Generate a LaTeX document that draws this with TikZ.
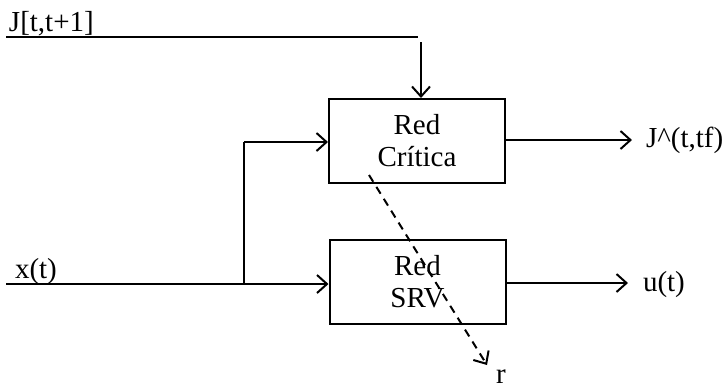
\documentclass[tikz,border=0pt]{standalone}
\usepackage{fontspec}
\setmainfont{Liberation Serif}
\usetikzlibrary{arrows.meta}
\begin{document}
\begin{tikzpicture}[x=0.5pt,y=-0.5pt,
  line width=1pt,
  lbl/.style={font=\fontsize{14.5}{16}\selectfont, inner sep=0pt},
  blockbox/.style={draw, line width=1pt, minimum width=88pt, minimum height=42pt, inner sep=0pt, align=center, font=\fontsize{14.5}{16}\selectfont},
  arr/.style={-{Straight Barb[length=5pt,width=9pt,line width=1pt]}},
  darr/.style={arr, dash pattern=on 4pt off 3pt}]
\useasboundingbox (0,0) rectangle (728,388);
\node[blockbox] (crit) at (417,141) {Red\\Crítica};
\node[blockbox] (srv) at (417.5,282) {Red\\SRV};
% J input
\node[lbl, anchor=base west] (jlab) at (8,31) {J[t,t+1]};
\coordinate (j0) at (6,37);
\coordinate (j1) at (418,37);
\coordinate (j2) at (421,42);
\draw (j0) -- (j1);
\draw[arr] (j2) -- (j2 |- crit.north);
% x input
\node[lbl, anchor=base west] (xlab) at (14,278) {x(t)};
\coordinate (x0) at (6,284);
\coordinate (br) at (244,284);
\coordinate (brtop) at (244,142);
\draw[arr] (x0) -- (srv.west |- x0);
\draw (br) -- (brtop);
\draw[arr] (brtop) -- (crit.west |- brtop);
% outputs
\node[lbl, anchor=base west] (jout) at (645,147) {J\^{}(t,tf)};
\node[lbl, anchor=base west] (uout) at (642,291) {u(t)};
\draw[arr] (crit.east |- 0,140) -- ([xshift=-6.5pt]jout.west |- 0,140);
\draw[arr] (srv.east |- 0,283) -- ([xshift=-7pt]uout.west |- 0,283);
% dashed
\coordinate (d0) at (369,175);
\coordinate (d1) at (487,365);
\draw[darr] (d0) -- (d1);
\node[lbl] (r) at (501,377) {r};
\end{tikzpicture}
\end{document}
